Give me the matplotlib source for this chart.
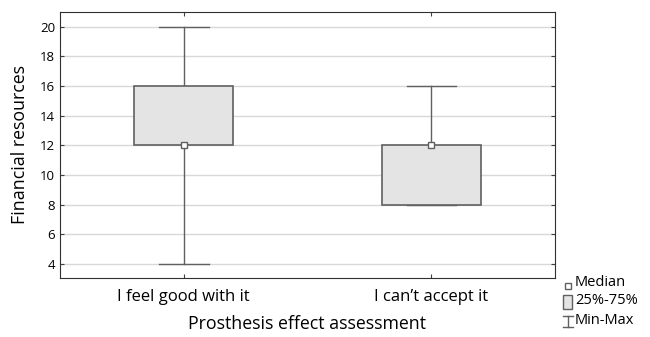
import matplotlib
matplotlib.use("Agg")
import matplotlib.pyplot as plt
from matplotlib.patches import Rectangle

categories = ["I feel good with it", "I can\u2019t accept it"]
mins = [4, 8]
q1 = [12, 8]
medians = [12, 12]
q3 = [16, 12]
maxs = [20, 16]
yticks = [4, 6, 8, 10, 12, 14, 16, 18, 20]

plt.rcParams['font.family'] = ['Open Sans', 'DejaVu Sans']

fig = plt.figure(figsize=(6.5, 3.37), dpi=100)
ax = fig.add_axes([60/650, 59/337, 495/650, 266/337])

edge = "#606060"
for i in range(len(categories)):
    # whiskers
    ax.plot([i, i], [mins[i], q1[i]], color=edge, lw=1, zorder=2)
    ax.plot([i, i], [q3[i], maxs[i]], color=edge, lw=1, zorder=2)
    ax.plot([i - 0.1, i + 0.1], [mins[i], mins[i]], color=edge, lw=1, zorder=2)
    ax.plot([i - 0.1, i + 0.1], [maxs[i], maxs[i]], color=edge, lw=1, zorder=2)
    ax.add_patch(Rectangle((i - 0.2, q1[i]), 0.4, q3[i] - q1[i],
                           facecolor="#e4e4e4", edgecolor=edge, lw=1.2, zorder=3))
    ax.plot(i, medians[i], marker="s", ms=4.5, mfc="white", mec=edge, mew=1, zorder=4)

ax.set_xlim(-0.5, 1.5)
ax.set_ylim(3.05, 21.0)
ax.set_xticks(range(len(categories)))
ax.set_xticklabels(categories, fontsize=12)
ax.set_yticks(yticks)
ax.set_yticklabels([str(v) for v in yticks], fontsize=9.5)
ax.yaxis.grid(True, color="#d8d8d8", lw=1)
ax.set_axisbelow(True)
ax.tick_params(direction="in", top=True, right=True, length=3, color="#404040")
ax.tick_params(axis="x", pad=8)
for s in ax.spines.values():
    s.set_color("#303030")
ax.set_ylabel("Financial resources", fontsize=12.8, labelpad=8)
ax.set_xlabel("Prosthesis effect assessment", fontsize=12.8, labelpad=7)

# legend outside
tx = 575/650
fig.text(tx, 1 - 283/337, "Median", fontsize=10.5, va="center")
fig.text(tx, 1 - 301/337, "25%-75%", fontsize=10.5, va="center")
fig.text(tx, 1 - 321/337, "Min-Max", fontsize=10.5, va="center")
lx = 568/650
fig.add_artist(plt.Line2D([lx], [1 - 286/337], marker="s", ms=4, mfc="white", mec=edge, mew=1, transform=fig.transFigure))
fig.add_artist(Rectangle((563/650, 1 - 309/337), 9/650, 14/337, facecolor="#e4e4e4", edgecolor=edge, lw=1, transform=fig.transFigure))
fig.add_artist(plt.Line2D([lx, lx], [1 - 327/337, 1 - 316/337], color=edge, lw=1, transform=fig.transFigure))
fig.add_artist(plt.Line2D([lx - 5/650, lx + 5/650], [1 - 327/337] * 2, color=edge, lw=1, transform=fig.transFigure))
fig.add_artist(plt.Line2D([lx - 5/650, lx + 5/650], [1 - 316/337] * 2, color=edge, lw=1, transform=fig.transFigure))

fig.savefig("out.png", dpi=100)
